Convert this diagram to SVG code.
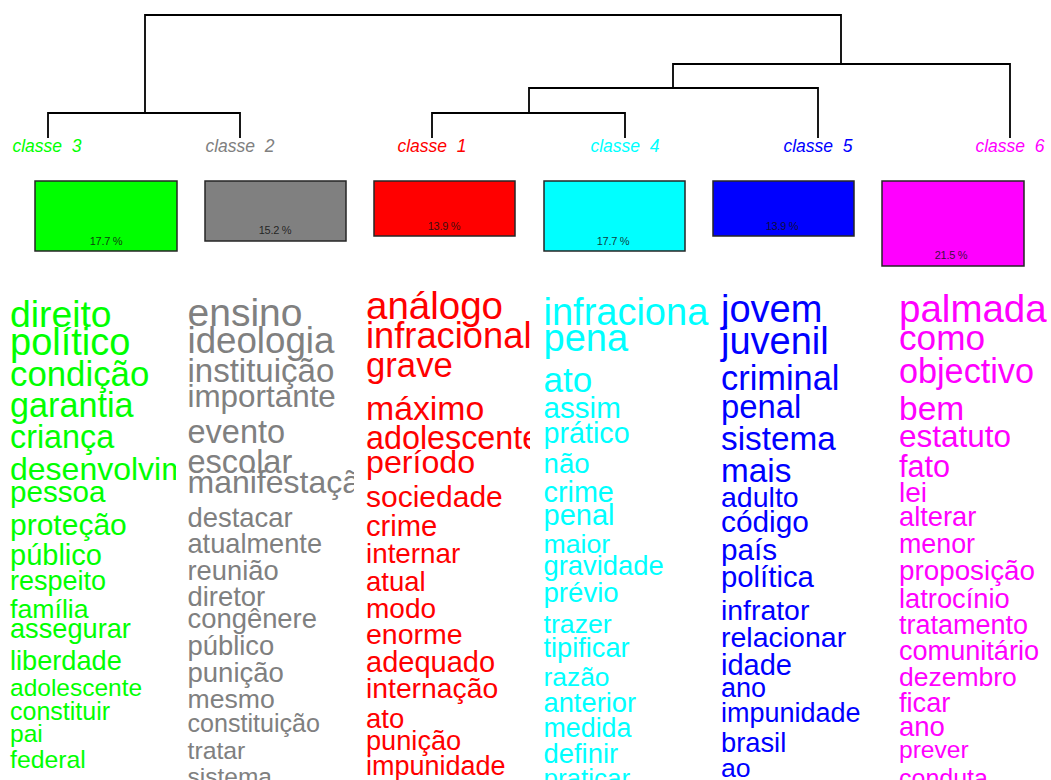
<svg xmlns="http://www.w3.org/2000/svg" width="1051" height="780" viewBox="0 0 1051 780">
<style>
text{font-family:"Liberation Sans",Arial,sans-serif}
.lbl{font-size:17.5px;font-style:italic;text-anchor:middle}
.pct{font-size:11px;text-anchor:middle;fill:#111;fill-opacity:0.85;letter-spacing:-0.3px}
.box{stroke:#262626;stroke-width:1.5}
.edge{stroke:#000;stroke-width:1.8;fill:none}
.g{fill:#00ff00}.k{fill:#808080}.r{fill:#ff0000}.c{fill:#00ffff}.b{fill:#0000ff}.m{fill:#ff00ff}
</style>
<defs>
<clipPath id="clipG"><rect x="0" y="270" width="176" height="510"/></clipPath>
<clipPath id="clipK"><rect x="180" y="270" width="174" height="510"/></clipPath>
<clipPath id="clipR"><rect x="358" y="270" width="172" height="510"/></clipPath>
<clipPath id="clipC"><rect x="536" y="270" width="173" height="510"/></clipPath>
</defs>
<rect width="1051" height="780" fill="#fff"/>
<g id="connectors">
<path class="edge" d="M48,138V113H240V138 M145,113V15H841V64 M673,88V64H1010V138 M529,113V88H818V138 M432,138V113H625V138"/>
</g>
<g id="classe3">
<text class="lbl g" x="47" y="152" xml:space="preserve">classe  3</text>
<rect class="box g" x="35" y="181" width="142" height="70"/>
<text class="pct" x="106" y="245">17.7 %</text>
<g class="g" clip-path="url(#clipG)">
<text x="10" y="327" font-size="37.3">direito</text>
<text x="10" y="355" font-size="38">político</text>
<text x="10" y="386" font-size="34.8">condição</text>
<text x="10" y="417" font-size="34.2">garantia</text>
<text x="10" y="448" font-size="32.3">criança</text>
<text x="10" y="480" font-size="32">desenvolvimento</text>
<text x="10" y="502" font-size="29.6">pessoa</text>
<text x="10" y="535" font-size="30">proteção</text>
<text x="10" y="565" font-size="29">público</text>
<text x="10" y="590" font-size="27">respeito</text>
<text x="10" y="618" font-size="26.7">família</text>
<text x="10" y="638" font-size="27.2">assegurar</text>
<text x="10" y="670" font-size="27.2">liberdade</text>
<text x="10" y="696" font-size="24.5">adolescente</text>
<text x="10" y="720" font-size="25">constituir</text>
<text x="10" y="742" font-size="24.6">pai</text>
<text x="10" y="768" font-size="24.8">federal</text>
</g>
</g>
<g id="classe2">
<text class="lbl k" x="240" y="152" xml:space="preserve">classe  2</text>
<rect class="box k" x="205" y="181" width="141" height="60"/>
<text class="pct" x="275" y="234">15.2 %</text>
<g class="k" clip-path="url(#clipK)">
<text x="187.5" y="326" font-size="39">ensino</text>
<text x="187.5" y="353" font-size="36.7">ideologia</text>
<text x="187.5" y="382" font-size="33">instituição</text>
<text x="187.5" y="407" font-size="31.4">importante</text>
<text x="187.5" y="443" font-size="32.5">evento</text>
<text x="187.5" y="473" font-size="32.5">escolar</text>
<text x="187.5" y="493" font-size="32">manifestação</text>
<text x="187.5" y="527" font-size="27.4">destacar</text>
<text x="187.5" y="553" font-size="27.2">atualmente</text>
<text x="187.5" y="580" font-size="27.3">reunião</text>
<text x="187.5" y="606" font-size="27.4">diretor</text>
<text x="187.5" y="628" font-size="27.4">congênere</text>
<text x="187.5" y="655" font-size="27.4">público</text>
<text x="187.5" y="682" font-size="27.5">punição</text>
<text x="187.5" y="708" font-size="26.6">mesmo</text>
<text x="187.5" y="732" font-size="25.1">constituição</text>
<text x="187.5" y="759" font-size="24.8">tratar</text>
<text x="187.5" y="785" font-size="24.5">sistema</text>
</g>
</g>
<g id="classe1">
<text class="lbl r" x="432" y="152" xml:space="preserve">classe  1</text>
<rect class="box r" x="374" y="181" width="141" height="55"/>
<text class="pct" x="444" y="229.5">13.9 %</text>
<g class="r" clip-path="url(#clipR)">
<text x="366" y="319" font-size="38.5">análogo</text>
<text x="366" y="348" font-size="36.3">infracional</text>
<text x="366" y="377" font-size="34.7">grave</text>
<text x="366" y="420" font-size="33.8">máximo</text>
<text x="366" y="449" font-size="32.3">adolescente</text>
<text x="366" y="473" font-size="32.2">período</text>
<text x="366" y="507" font-size="30">sociedade</text>
<text x="366" y="536" font-size="29.2">crime</text>
<text x="366" y="563" font-size="27.8">internar</text>
<text x="366" y="591" font-size="27.5">atual</text>
<text x="366" y="618" font-size="28">modo</text>
<text x="366" y="644" font-size="28.5">enorme</text>
<text x="366" y="672" font-size="29">adequado</text>
<text x="366" y="698" font-size="28.3">internação</text>
<text x="366" y="728" font-size="27.5">ato</text>
<text x="366" y="750" font-size="27.2">punição</text>
<text x="366" y="775" font-size="27">impunidade</text>
</g>
</g>
<g id="classe4">
<text class="lbl c" x="625" y="152" xml:space="preserve">classe  4</text>
<rect class="box c" x="544" y="181" width="141" height="70"/>
<text class="pct" x="613" y="245">17.7 %</text>
<g class="c" clip-path="url(#clipC)">
<text x="543.5" y="325" font-size="38">infracional</text>
<text x="543.5" y="351" font-size="38">pena</text>
<text x="543.5" y="392" font-size="35">ato</text>
<text x="543.5" y="418" font-size="29.6">assim</text>
<text x="543.5" y="443" font-size="28.7">prático</text>
<text x="543.5" y="473" font-size="27.7">não</text>
<text x="543.5" y="502" font-size="28.8">crime</text>
<text x="543.5" y="525" font-size="29">penal</text>
<text x="543.5" y="553" font-size="26.7">maior</text>
<text x="543.5" y="575" font-size="27.4">gravidade</text>
<text x="543.5" y="602" font-size="27.6">prévio</text>
<text x="543.5" y="633" font-size="26.7">trazer</text>
<text x="543.5" y="657" font-size="27.2">tipificar</text>
<text x="543.5" y="686" font-size="26.4">razão</text>
<text x="543.5" y="712" font-size="27.3">anterior</text>
<text x="543.5" y="737" font-size="26.8">medida</text>
<text x="543.5" y="763" font-size="27.4">definir</text>
<text x="543.5" y="787" font-size="26">praticar</text>
</g>
</g>
<g id="classe5">
<text class="lbl b" x="818" y="152" xml:space="preserve">classe  5</text>
<rect class="box b" x="713" y="181" width="141" height="55"/>
<text class="pct" x="782" y="229.5">13.9 %</text>
<g class="b">
<text x="721" y="322" font-size="38">jovem</text>
<text x="721" y="354" font-size="38">juvenil</text>
<text x="721" y="390" font-size="34.4">criminal</text>
<text x="721" y="418" font-size="32.8">penal</text>
<text x="721" y="450" font-size="33.3">sistema</text>
<text x="721" y="482" font-size="33.3">mais</text>
<text x="721" y="507" font-size="28.5">adulto</text>
<text x="721" y="532" font-size="29.8">código</text>
<text x="721" y="560" font-size="29.7">país</text>
<text x="721" y="587" font-size="29.3">política</text>
<text x="721" y="620" font-size="28.4">infrator</text>
<text x="721" y="647" font-size="28.5">relacionar</text>
<text x="721" y="675" font-size="29">idade</text>
<text x="721" y="697" font-size="27">ano</text>
<text x="721" y="722" font-size="27">impunidade</text>
<text x="721" y="752" font-size="27.3">brasil</text>
<text x="721" y="777" font-size="26.7">ao</text>
</g>
</g>
<g id="classe6">
<text class="lbl m" x="1010" y="152" xml:space="preserve">classe  6</text>
<rect class="box m" x="882" y="181" width="142" height="85"/>
<text class="pct" x="951" y="259">21.5 %</text>
<g class="m">
<text x="899" y="322" font-size="38.5">palmada</text>
<text x="899" y="350" font-size="35.2">como</text>
<text x="899" y="383" font-size="34.2">objectivo</text>
<text x="899" y="420" font-size="33.5">bem</text>
<text x="899" y="447" font-size="31.5">estatuto</text>
<text x="899" y="477" font-size="30.6">fato</text>
<text x="899" y="502" font-size="28">lei</text>
<text x="899" y="526" font-size="27.3">alterar</text>
<text x="899" y="553" font-size="26.8">menor</text>
<text x="899" y="580" font-size="27.8">proposição</text>
<text x="899" y="608" font-size="27.3">latrocínio</text>
<text x="899" y="634" font-size="27">tratamento</text>
<text x="899" y="660" font-size="27.1">comunitário</text>
<text x="899" y="686" font-size="26.5">dezembro</text>
<text x="899" y="712" font-size="27.2">ficar</text>
<text x="899" y="736" font-size="27.5">ano</text>
<text x="899" y="758" font-size="24.6">prever</text>
<text x="899" y="787" font-size="25">conduta</text>
</g>
</g>
</svg>
